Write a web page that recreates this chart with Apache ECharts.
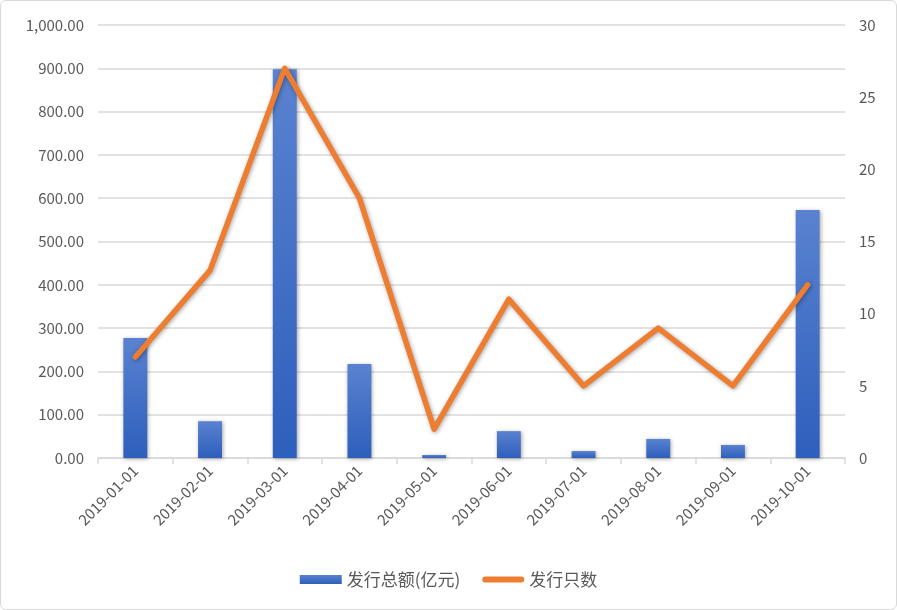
<!DOCTYPE html>
<html><head><meta charset="utf-8">
<script src="https://cdn.jsdelivr.net/npm/echarts@6/dist/echarts.min.js"></script>
<style>
html,body{margin:0;padding:0;background:#fff;}
#wrap{position:absolute;left:0;top:0;width:895px;height:608px;border:1px solid #d9d9d9;border-radius:6px;}
#c{width:897px;height:610px;position:absolute;left:0;top:0;}
</style></head>
<body><div id="wrap"></div><div id="c"></div>
<script>
const categories = ['2019-01-01','2019-02-01','2019-03-01','2019-04-01','2019-05-01','2019-06-01','2019-07-01','2019-08-01','2019-09-01','2019-10-01'];
const amountValues = [277, 85, 898, 217, 7, 62, 16, 44, 30, 573];
const countValues = [7, 13, 27, 18, 2, 11, 5, 9, 5, 12];
const seriesNames = ['发行总额(亿元)', '发行只数'];

const chart = echarts.init(document.getElementById('c'));
const font = '"Microsoft YaHei","Noto Sans CJK SC","Noto Sans",sans-serif';
function fmt(v){return v.toFixed(2).replace(/\B(?=(\d{3})+(?!\d))/g, ',');}
chart.setOption({
  animation:false,
  textStyle:{fontFamily:font},
  grid:{left:98,right:52,top:25,bottom:152},
  legend:{
    bottom:17, left:'center', itemGap:22, itemWidth:42, itemHeight:9,
    textStyle:{color:'#595959',fontSize:17,fontFamily:font},
    data:[
      {name:seriesNames[0],icon:'rect'},
      {name:seriesNames[1],icon:'path://M3,0 L39,0 A3,3 0 0 1 39,6 L3,6 A3,3 0 0 1 3,0 Z'}
    ]
  },
  xAxis:{
    type:'category', data:categories,
    axisLine:{lineStyle:{color:'#d9d9d9',width:1.5}},
    axisTick:{show:true,length:6,lineStyle:{color:'#d9d9d9',width:1.5}},
    axisLabel:{rotate:45,color:'#595959',fontSize:15,margin:10,fontFamily:font}
  },
  yAxis:[{
    type:'value', min:0, max:1000, interval:100,
    axisLine:{show:false}, axisTick:{show:false},
    splitLine:{lineStyle:{color:'#d9d9d9',width:1.5}},
    axisLabel:{color:'#595959',fontSize:15,margin:14,formatter:fmt,fontFamily:font}
  },{
    type:'value', min:0, max:30, interval:5,
    axisLine:{show:false}, axisTick:{show:false}, splitLine:{show:false},
    axisLabel:{color:'#595959',fontSize:15,margin:14,fontFamily:font}
  }],
  series:[{
    name:seriesNames[0], type:'bar', data:amountValues, barWidth:'32%',
    itemStyle:{
      color:new echarts.graphic.LinearGradient(0,0,0,1,[{offset:0,color:'#5a82d0'},{offset:1,color:'#2d5fbc'}]),
      shadowColor:'rgba(0,0,0,0.35)',shadowBlur:4,shadowOffsetX:1,shadowOffsetY:1
    }
  },{
    name:seriesNames[1], type:'line', yAxisIndex:1, data:countValues,
    symbol:'none',
    lineStyle:{color:'#ed7d31',width:5.5,cap:'round',join:'round',shadowColor:'rgba(0,0,0,0.35)',shadowBlur:4,shadowOffsetX:1,shadowOffsetY:1},
    itemStyle:{color:'#ed7d31'}
  }]
});
</script></body></html>
